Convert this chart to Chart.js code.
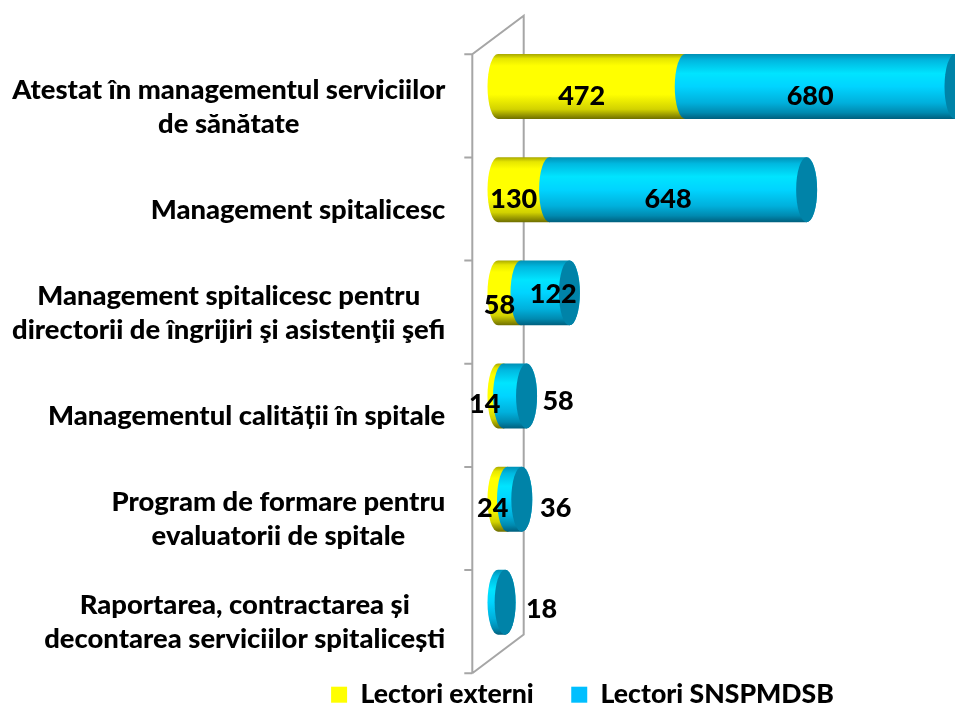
<!DOCTYPE html>
<html>
<head>
<meta charset="utf-8">
<title>Lectori</title>
<script src="https://cdn.jsdelivr.net/npm/chart.js@4"></script>
<style>
  html, body { margin: 0; background: #fff; }
  canvas { display: block; }
</style>
</head>
<body>
<canvas id="grafico" width="955" height="704"></canvas>
<script>
  // Datos
  const categorias = [
      ['Atestat în managementul serviciilor', 'de sănătate'],
      ['Management spitalicesc'],
      ['Management spitalicesc pentru', 'directorii de îngrijiri şi asistenţii şefi'],
      ['Managementul calității în spitale'],
      ['Program de formare pentru', 'evaluatorii de spitale'],
      ['Raportarea, contractarea și', 'decontarea serviciilor spitalicești']
  ];
  const lectoriExterni = [472, 130, 58, 14, 24, 0];
  const lectoriSnspmpdsb = [680, 648, 122, 58, 36, 18];

  // Estilos
  const FUENTE = 'Lato, sans-serif';
  const AMARILLO = '#ffff00';
  const AZUL = '#00bfff';
  const TAPA = '#0083a8';
  const GRIS = '#a6a6a6';
  const RADIO_X = 10.5;
  const FONDO_X = 25.7, FONDO_Y = 19.3; // media profundidad del 3D
  const tonos = [
      [[0, '#a8a800'], [0.07, '#e6e600'], [0.18, '#ffff00'], [0.62, '#ffff00'], [0.85, '#d2d200'], [1, '#6e6e00']],
      [[0, '#0090b5'], [0.1, '#00b8e0'], [0.3, '#00e4ff'], [0.5, '#00d4ff'], [0.75, '#00b0dc'], [0.9, '#008ab0'], [1, '#005f7d']]
  ];
  // Ajuste de cada etiqueta respecto al centro del segmento: [serie][categoria]
  const ajustes = [
      [[-10, 10], [-10, 10], [-10, 12], [-16, 8], [-10, 9], [0, 0]],
      [[-10, 10], [-10, 10], [8, 1], [43, 5], [41, 9], [40, 7]]
  ];

  // Cilindros: se dibujan a partir de los elementos de barra del gráfico
  const cilindros = {
      id: 'cilindros',
      beforeDatasetDraw() {
          return false;
      },
      beforeDatasetsDraw(chart) {
          const c = chart.ctx;
          chart.data.datasets.forEach((ds, s) => {
              chart.getDatasetMeta(s).data.forEach(b => {
                  if (b.x === b.base) return;
                  const arriba = b.y - b.height / 2, abajo = b.y + b.height / 2, ry = b.height / 2;
                  const g = c.createLinearGradient(0, arriba, 0, abajo);
                  tonos[s].forEach(t => g.addColorStop(t[0], t[1]));
                  c.beginPath();
                  c.ellipse(b.base, b.y, RADIO_X, ry, 0, Math.PI * 1.5, Math.PI * 0.5, true);
                  c.ellipse(b.x, b.y, RADIO_X, ry, 0, Math.PI * 0.5, Math.PI * 1.5, true);
                  c.closePath();
                  c.fillStyle = g;
                  c.fill();
                  if (s === 1) {
                      c.beginPath();
                      c.ellipse(b.x, b.y, RADIO_X, ry, 0, 0, Math.PI * 2);
                      c.fillStyle = TAPA;
                      c.fill();
                  }
              });
          });
      }
  };

  // Paredes del eje y textos de las categorias
  const ejeFrontal = {
      id: 'ejeFrontal',
      afterLayout(chart) {
          // la leyenda queda mas cerca del grafico que su padding
          chart.legend.top -= 10;
      },
      beforeDatasetsDraw(chart) {
          const c = chart.ctx, y = chart.scales.y, area = chart.chartArea;
          const x0 = area.left - FONDO_X, x1 = area.left + FONDO_X;
          const sup = area.top + FONDO_Y, inf = area.bottom + FONDO_Y;
          c.save();
          c.strokeStyle = GRIS;
          c.lineWidth = 2;
          c.beginPath();
          c.moveTo(x0, inf); c.lineTo(x0, sup); c.lineTo(x1, area.top - FONDO_Y);
          c.lineTo(x1, area.bottom - FONDO_Y); c.lineTo(x0, inf);
          const banda = (area.bottom - area.top) / categorias.length;
          for (let i = 0; i <= categorias.length; i++) {
              c.moveTo(x0 - 8, sup + banda * i);
              c.lineTo(x0, sup + banda * i);
          }
          c.stroke();

          c.fillStyle = '#000';
          c.font = '900 27.4px ' + FUENTE;
          c.textAlign = 'center';
          c.textBaseline = 'middle';
          categorias.forEach((lineas, i) => {
              const ancho = Math.max(...lineas.map(l => c.measureText(l).width));
              const centro = x0 - 27 - ancho / 2;
              const yc = y.getPixelForTick(i) + FONDO_Y + 1;
              lineas.forEach((l, n) => c.fillText(l, centro, yc + (n - (lineas.length - 1) / 2) * 34));
          });
          c.restore();
      },
      afterDatasetsDraw(chart) {
          const c = chart.ctx;
          c.save();
          c.fillStyle = '#000';
          c.font = '900 27px ' + FUENTE;
          c.textAlign = 'center';
          c.textBaseline = 'middle';
          chart.data.datasets.forEach((ds, s) => {
              chart.getDatasetMeta(s).data.forEach((b, i) => {
                  if (!ds.data[i]) return;
                  const a = ajustes[s][i];
                  c.fillText(ds.data[i], (b.x + b.base) / 2 + a[0], b.y + a[1]);
              });
          });
          c.restore();
      }
  };

  let ctx = document.getElementById('grafico').getContext('2d');
  let grafico = new Chart(ctx, {
      type: 'bar',
      data: {
          labels: categorias,
          datasets: [{
              label: 'Lectori externi',
              data: lectoriExterni,
              backgroundColor: AMARILLO
          }, {
              label: 'Lectori SNSPMDSB',
              data: lectoriSnspmpdsb,
              backgroundColor: AZUL
          }]
      },
      options: {
          indexAxis: 'y',
          responsive: false,
          animation: false,
          categoryPercentage: 1,
          barPercentage: 0.63,
          layout: { padding: { left: 210, top: 35, right: 0, bottom: -24 } },
          scales: {
              x: {
                  display: false,
                  stacked: true,
                  min: 0,
                  max: 1152
              },
              y: {
                  stacked: true,
                  ticks: { display: false },
                  grid: { display: false },
                  border: { display: false },
                  afterFit(escala) { escala.width = 288; }
              }
          },
          plugins: {
              tooltip: { enabled: false },
              legend: {
                  position: 'bottom',
                  labels: {
                      boxWidth: 16,
                      boxHeight: 16,
                      padding: 37.5,
                      color: '#000',
                      font: { family: FUENTE, weight: '900', size: 26.6 }
                  }
              }
          }
      },
      plugins: [ejeFrontal, cilindros]
  });
</script>
</body>
</html>
